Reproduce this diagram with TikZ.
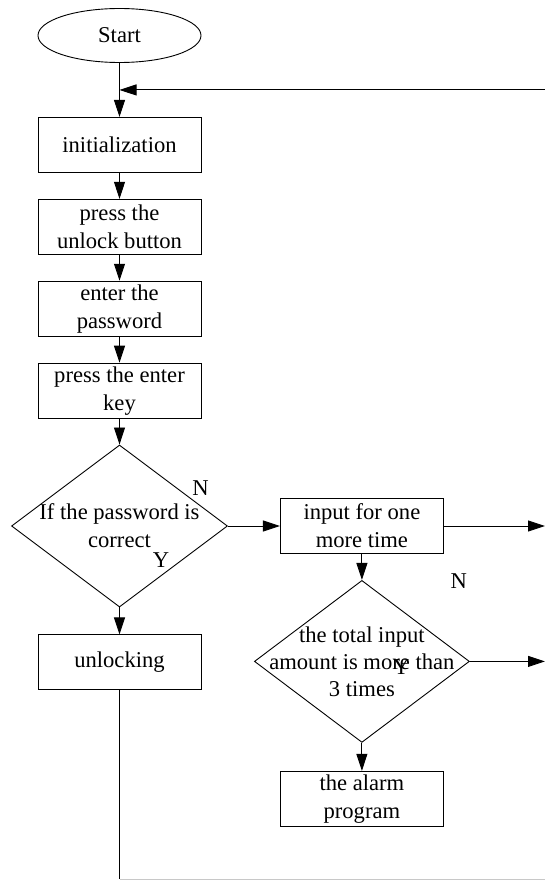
\documentclass[tikz,border=0pt]{standalone}
\usepackage{fontspec}
\setmainfont{Liberation Serif}
\usetikzlibrary{arrows.meta,calc,positioning,shapes.geometric}
\definecolor{Ink}{HTML}{000000}
\definecolor{Rim}{HTML}{C8C8C8}
\tikzset{
  terminal/.style={
    ellipse, draw=Ink, line width=0.9pt, fill=white,
    minimum width=163pt, minimum height=54pt, inner sep=0pt
  },
  stepbox/.style={
    rectangle, draw=Ink, line width=0.9pt, fill=white,
    minimum width=163pt, minimum height=55pt, inner sep=2pt, align=center
  },
  decision/.style={
    diamond, draw=Ink, line width=0.9pt, fill=white,
    minimum width=216pt, minimum height=162pt, inner sep=0pt
  },
  cond/.style={align=center, inner sep=0pt},
  tag/.style={inner sep=0pt, text=Ink},
  flow/.style={-{Triangle[length=17pt,width=11pt]}, line width=0.9pt, draw=Ink},
  plainflow/.style={line width=0.9pt, draw=Ink},
  edgeflow/.style={line width=0.9pt, draw=Rim}
}

\begin{document}
\begin{tikzpicture}[x=1pt,y=1pt,font=\fontsize{22.6}{28}\selectfont]
        \useasboundingbox (0,0) rectangle (545,-880);
        \node[terminal] (start) at (119.5,-35.5) {Start};
        \node[stepbox,below=54pt of start] (init) {initialization};
        \node[stepbox,below=26pt of init] (press) {press the\\unlock button};
        \node[stepbox,below=26pt of press] (pwd) {enter the\\password};
        \node[stepbox,below=26pt of pwd] (enter) {press the enter\\key};
        \node[decision,below=26pt of enter,
          label={[cond]center:If the password is\\correct}] (chk) {};
        \node[stepbox,below=27pt of chk] (unlock) {unlocking};
        \node[stepbox,right=52pt of chk] (retry) {input for one\\more time};
        \node[decision,minimum width=215pt,below=26pt of retry,
          label={[cond,font=\fontsize{22.6}{27}\selectfont]center:the total input\\amount is more than\\3 times}] (count) {};
        \node[stepbox,below=28pt of count] (alarm) {the alarm\\program};
        % branch marks
        \node[tag] at ($(chk.east)+(-27.5,38)$) {N};
        \node[tag] at ($(chk.center)+(41.5,-34)$) {Y};
        \node[tag] at ($(count.east)+(-11,80)$) {N};
        \node[tag] at ($(count.center)+(39.5,-5.5)$) {Y};
        % free ends at the border
        \coordinate (edgeR) at (545,0);
        \coordinate (edgeB) at (545,-879.4);
        \coordinate (corner) at (unlock.south |- edgeB);
        \coordinate (loopin) at ($(start.south)!0.5!(init.north)$);
        \draw[flow] (start)--(init);
        \draw[flow] (loopin -| edgeR)--(loopin);
        \draw[flow] (init)--(press); \draw[flow] (press)--(pwd);
        \draw[flow] (pwd)--(enter); \draw[flow] (enter)--(chk);
        \draw[flow] (chk)--(unlock); \draw[flow] (chk)--(retry);
        \draw[flow] (retry.east)--(retry.east -| edgeR);
        \draw[flow] (retry)--(count);
        \draw[flow] (count.east)--(count.east -| edgeR);
        \draw[flow] (count)--(alarm);
        \draw[plainflow] (unlock.south)--(corner);
        \draw[edgeflow] (corner)--(edgeB);
      \end{tikzpicture}
\end{document}
